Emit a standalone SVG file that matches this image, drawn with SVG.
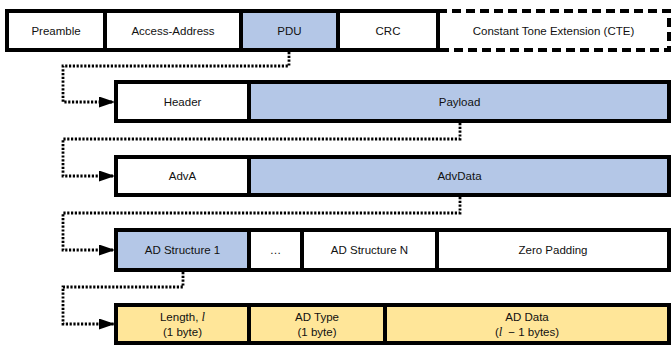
<svg xmlns="http://www.w3.org/2000/svg" width="672" height="345" viewBox="0 0 672 345">
<style>
  .c{stroke:#000;stroke-width:4;fill:#fff}
  .b{fill:#b4c7e7}
  .y{fill:#ffe699}
  .d{stroke-dasharray:9 5}
  text{font-family:"Liberation Sans",Arial,sans-serif;font-size:11.5px;fill:#111;text-anchor:middle;dominant-baseline:central}
  .i{font-family:"Liberation Serif","Times New Roman",serif;font-style:italic;font-size:12.5px}
  .con{fill:none;stroke:#000;stroke-width:2.8;stroke-dasharray:2.2 1.6}
</style>
<defs>
  <marker id="ah" markerUnits="userSpaceOnUse" markerWidth="17" markerHeight="12" refX="16" refY="5.5" orient="auto">
    <path d="M0,0 L16,5.5 L0,11 z" fill="#000"/>
  </marker>
</defs>
<g id="connectors">
  <path class="con" d="M289,52 V66 H63 V102 H115" marker-end="url(#ah)"/>
  <path class="con" d="M460,123 V139 H63 V176 H115" marker-end="url(#ah)"/>
  <path class="con" d="M460,197 V213 H63 V250 H115" marker-end="url(#ah)"/>
  <path class="con" d="M183,272 V287 H63 V324 H115" marker-end="url(#ah)"/>
</g>
<g id="cte"><rect class="c d" x="438" y="11" width="231" height="39"/><text x="553.5" y="30.5">Constant Tone Extension (CTE)</text></g>
<g id="preamble"><rect class="c" x="7" y="11" width="98" height="39"/><text x="56" y="30.5">Preamble</text></g>
<g id="access-address"><rect class="c" x="105" y="11" width="136" height="39"/><text x="173" y="30.5">Access-Address</text></g>
<g id="pdu"><rect class="c b" x="241" y="11" width="97" height="39"/><text x="289.5" y="30.5">PDU</text></g>
<g id="crc"><rect class="c" x="338" y="11" width="100" height="39"/><text x="388" y="30.5">CRC</text></g>

<g id="header"><rect class="c" x="116" y="82" width="133" height="39"/><text x="182.5" y="101.5">Header</text></g>
<g id="payload"><rect class="c b" x="249" y="82" width="420" height="39"/><text x="459.5" y="101.5">Payload</text></g>

<g id="adva"><rect class="c" x="116" y="157" width="133" height="38"/><text x="182.5" y="176">AdvA</text></g>
<g id="advdata"><rect class="c b" x="249" y="157" width="420" height="38"/><text x="459.5" y="176">AdvData</text></g>

<g id="ad-structure-1"><rect class="c b" x="116" y="230" width="133" height="40"/><text x="182.5" y="250">AD Structure 1</text></g>
<g id="ellipsis"><rect class="c" x="249" y="230" width="53" height="40"/><text x="275.5" y="250">…</text></g>
<g id="ad-structure-n"><rect class="c" x="302" y="230" width="135" height="40"/><text x="369.5" y="250">AD Structure N</text></g>
<g id="zero-padding"><rect class="c" x="437" y="230" width="232" height="40"/><text x="553" y="250">Zero Padding</text></g>

<g id="length"><rect class="c y" x="116" y="305" width="133" height="38"/><text x="182.5" y="316.5">Length, <tspan class="i">l</tspan></text><text x="182.5" y="331.5">(1 byte)</text></g>
<g id="ad-type"><rect class="c y" x="249" y="305" width="136" height="38"/><text x="317" y="316.5">AD Type</text><text x="317" y="331.5">(1 byte)</text></g>
<g id="ad-data"><rect class="c y" x="385" y="305" width="284" height="38"/><text x="527" y="316.5">AD Data</text><text x="527" y="331.5">(<tspan class="i">l</tspan><tspan dx="6">− 1 bytes)</tspan></text></g>
</svg>
